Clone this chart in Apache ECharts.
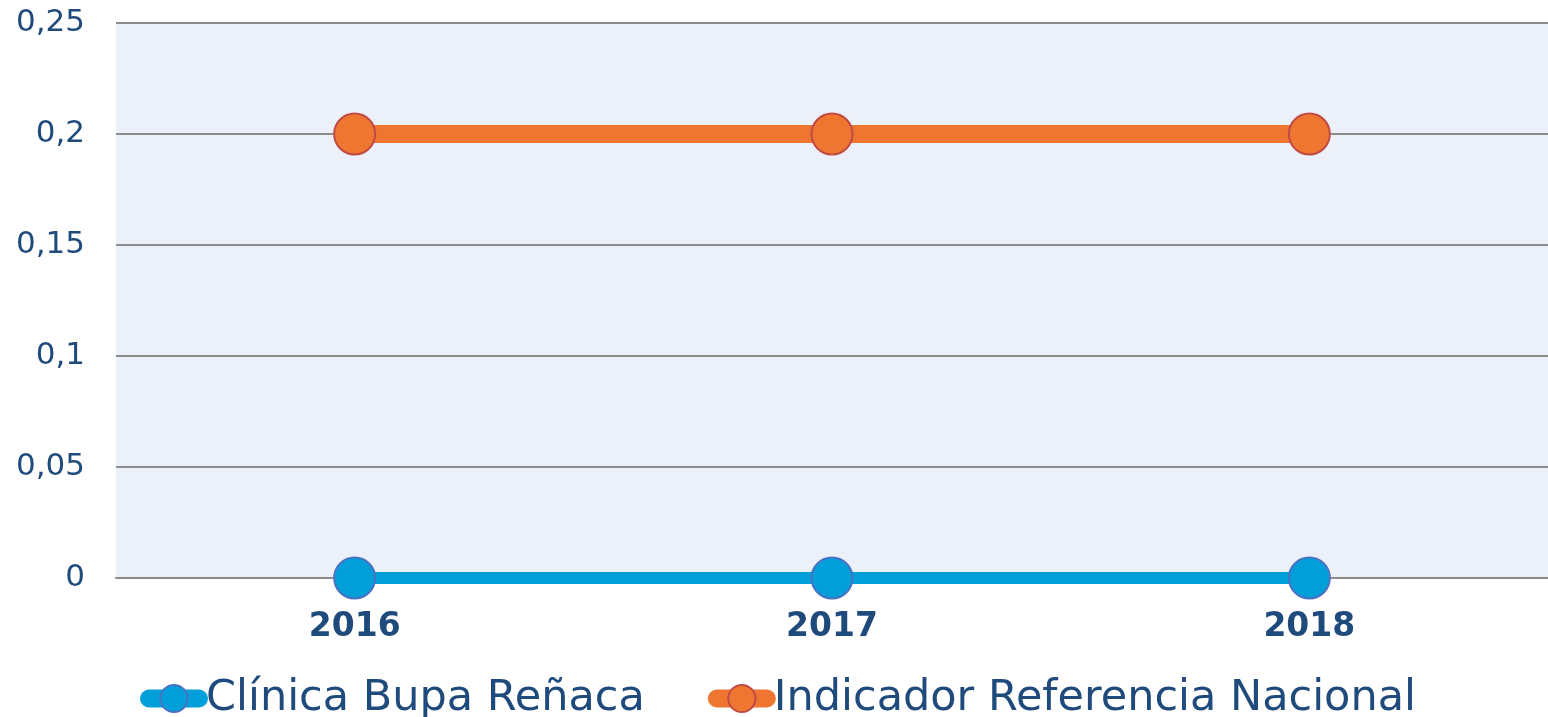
<!DOCTYPE html>
<html>
<head>
<meta charset="utf-8">
<script src="https://cdn.jsdelivr.net/npm/echarts@6/dist/echarts.min.js"></script>
<style>
  html, body { margin: 0; padding: 0; background: #fff; }
  #chart { width: 1548px; height: 717px; }
</style>
</head>
<body>
<div id="chart"></div>
<script>
const years = ["2016", "2017", "2018"];
const clinica = [0, 0, 0];
const referencia = [0.2, 0.2, 0.2];
const seriesNames = ["Clínica Bupa Reñaca", "Indicador Referencia Nacional"];

const textColor = "#1f4a7c";
const font = "DejaVu Sans";

let chart = echarts.init(document.getElementById("chart"));
chart.setOption({
  animation: false,
  grid: {
    left: 116, right: 0, top: 23, bottom: 139,
    show: true, backgroundColor: "#ecf0f8", borderWidth: 0
  },
  xAxis: {
    type: "category",
    data: years,
    axisTick: { show: false },
    axisLine: { lineStyle: { color: "#8c8c8c", width: 2 } },
    axisLabel: { color: textColor, fontSize: 33, fontWeight: "bold", fontFamily: font, margin: 33 }
  },
  yAxis: {
    type: "value",
    min: 0, max: 0.25, interval: 0.05,
    axisLabel: {
      color: textColor, fontSize: 31, fontFamily: font, margin: 31,
      formatter: (v) => String(Math.round(v * 100) / 100).replace(".", ",")
    },
    splitLine: { lineStyle: { color: "#8c8c8c", width: 2 } }
  },
  legend: {
    top: 677, left: 140, padding: 0,
    itemWidth: 50, itemHeight: 34, itemGap: 63,
    lineStyle: { width: 18, cap: "round" },
    textStyle: { color: textColor, fontSize: 43, lineHeight: 38, fontFamily: font, padding: [0, 0, 0, 2] },
    data: seriesNames
  },
  series: [
    {
      name: seriesNames[0],
      type: "line",
      data: clinica,
      symbol: "circle", symbolSize: 41,
      lineStyle: { color: "#009fda", width: 12 },
      itemStyle: { color: "#009fda", borderColor: "#4a72c0", borderWidth: 2 }
    },
    {
      name: seriesNames[1],
      type: "line",
      data: referencia,
      symbol: "circle", symbolSize: 41,
      lineStyle: { color: "#ee7631", width: 18 },
      itemStyle: { color: "#ee7631", borderColor: "#c04a44", borderWidth: 2 }
    }
  ]
});
</script>
</body>
</html>
